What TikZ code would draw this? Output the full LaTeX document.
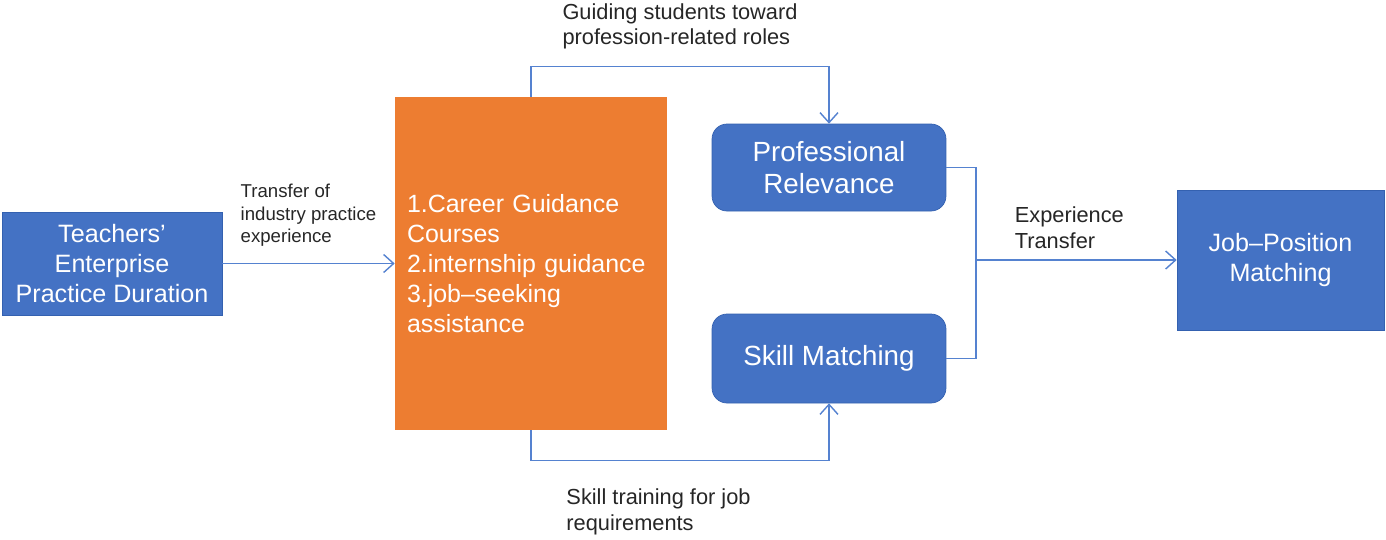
\documentclass[tikz,border=0pt]{standalone}
\usepackage{fontspec}
\setmainfont{Liberation Sans}
\usetikzlibrary{arrows.meta}
\definecolor{officeblue}{HTML}{4472C4}
\definecolor{blueedge}{HTML}{3461B0}
\definecolor{officeorange}{HTML}{ED7D31}
\definecolor{linkblue}{HTML}{5582D0}

\begin{document}
\begin{tikzpicture}[x=0.02cm, y=-0.02cm,
  bluebox/.style={fill=officeblue, draw=blueedge, line width=0.4pt, text=white, align=center,
    font=\fontsize{14.3}{16.8}\selectfont},
  roundbox/.style={bluebox, rounded corners=0.3cm, minimum width=4.68cm,
    font=\fontsize{15.8}{18.2}\selectfont},
  orangebox/.style={fill=officeorange, text=white, align=left, inner xsep=0.24cm,
    font=\fontsize{14.2}{17}\selectfont},
  linkline/.style={draw=linkblue, line width=0.8pt},
  link/.style={linkline, -{Straight Barb[length=2mm,width=3.6mm]}},
  linklabel/.style={text=black!85, align=left, inner sep=0pt, font=\fontsize{12.4}{14.4}\selectfont}]
  \useasboundingbox (0,0) rectangle (1386,539);

  \node[bluebox, minimum width=4.4cm, minimum height=2.06cm] (teach) at (112,263.5)
    {Teachers’\\Enterprise\\Practice Duration};
  \node[orangebox, minimum width=5.44cm, minimum height=6.66cm, text width=4.96cm] (career) at (531,263.5)
    {1.Career Guidance\\Courses\\2.internship guidance\\3.job–seeking\\assistance};
  \node[roundbox, minimum height=1.74cm] (prof) at (829,167.5) {Professional\\Relevance};
  \node[roundbox, minimum height=1.78cm] (skill) at (829,358.5) {Skill Matching};
  \node[bluebox, minimum width=4.14cm, minimum height=2.8cm] (job) at (1280.5,260) {Job–Position\\Matching};
  \coordinate (merge) at (976,260);

  \draw[link] (teach) -- node[linklabel, above=0.32cm, font=\fontsize{10.6}{13}\selectfont]
    {Transfer of\\industry practice\\experience} (career);
  \draw[link] (career.north) -- ++(0,-30) -| node[linklabel, pos=0.25, above=0.34cm]
    {Guiding students toward\\profession-related roles} (prof.north);
  \draw[link] (career.south) -- ++(0,30) -| node[linklabel, pos=0.25, below=0.56cm, xshift=-0.43cm]
    {Skill training for job\\requirements} (skill.south);
  \draw[linkline] (prof.east) -| (merge);
  \draw[linkline] (skill.east) -| (merge);
  \draw[link] (merge) -- node[linklabel, above=0.22cm, xshift=-0.14cm] {Experience\\Transfer} (job);
\end{tikzpicture}
\end{document}
